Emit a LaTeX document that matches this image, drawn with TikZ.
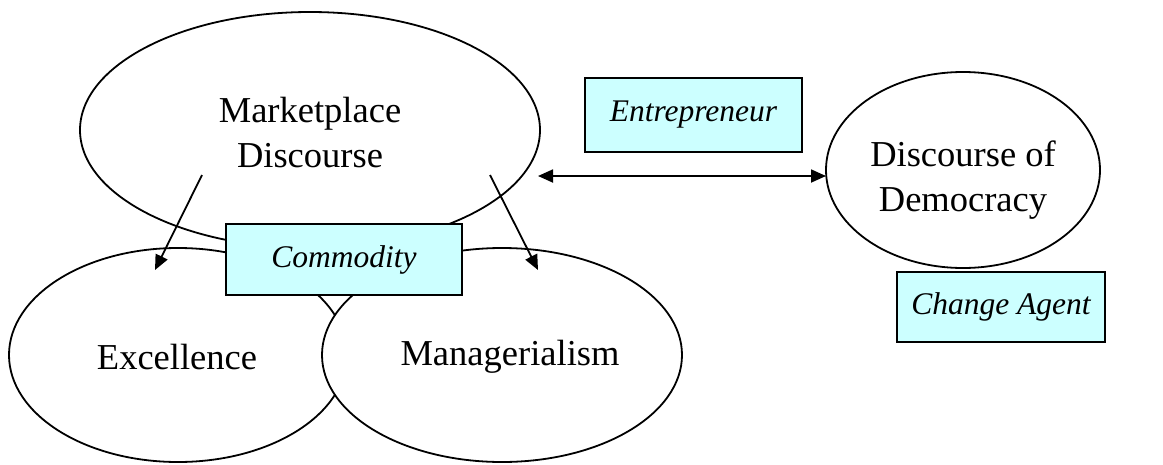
\documentclass[tikz,border=0pt]{standalone}
\usepackage{fontspec}
\setmainfont{Liberation Serif}
\usetikzlibrary{arrows.meta}
\definecolor{boxcyan}{HTML}{CCFFFF}
\begin{document}
\begin{tikzpicture}[x=1pt,y=-1pt,
  oval/.style={draw=black,line width=1.8pt,fill=white},
  label/.style={font=\fontsize{36.5}{45}\selectfont,align=center,inner sep=0pt},
  tag/.style={draw=black,line width=1.8pt,fill=boxcyan,font=\fontsize{31.5}{38}\selectfont\itshape,inner sep=0pt},
  conn/.style={line width=1.8pt,-{Triangle[length=15pt,width=13pt]}},
  bconn/.style={line width=1.8pt,{Triangle[length=15pt,width=13pt]}-{Triangle[length=15pt,width=13pt]}}]
\useasboundingbox (0,0) rectangle (1163,464);
% ellipses
\draw[oval] (310,130) ellipse [x radius=230,y radius=118];
\draw[oval] (178,355) ellipse [x radius=169,y radius=107];
\draw[oval] (502,355) ellipse [x radius=180,y radius=107];
\draw[oval] (963,170) ellipse [x radius=137,y radius=98];
% labels
\node[label] (mkt) at (310,133) {Marketplace\\Discourse};
\node[label] (exc) at (177,357) {Excellence};
\node[label] (mgr) at (510,357) {Managerialism};
\node[label] (dem) at (963,180) {Discourse of\\Democracy};
% boxes
\node[tag,minimum width=217pt,minimum height=74pt] (ent) at (693.5,115) {Entrepreneur};
\node[tag,minimum width=236pt,minimum height=71pt] (com) at (344,259.5) {Commodity};
\node[tag,minimum width=208pt,minimum height=70pt] (cha) at (1001,307) {Change Agent};
% connectors
\coordinate (a1s) at (202,175);
\coordinate (a1e) at (155,270);
\coordinate (a2s) at (490,175);
\coordinate (a2e) at (538,270);
\coordinate (dl) at (538,176);
\coordinate (dr) at (826,176);
\draw[conn] (a1s) -- (a1e);
\draw[conn] (a2s) -- (a2e);
\draw[bconn] (dl) -- (dr);
\end{tikzpicture}
\end{document}
